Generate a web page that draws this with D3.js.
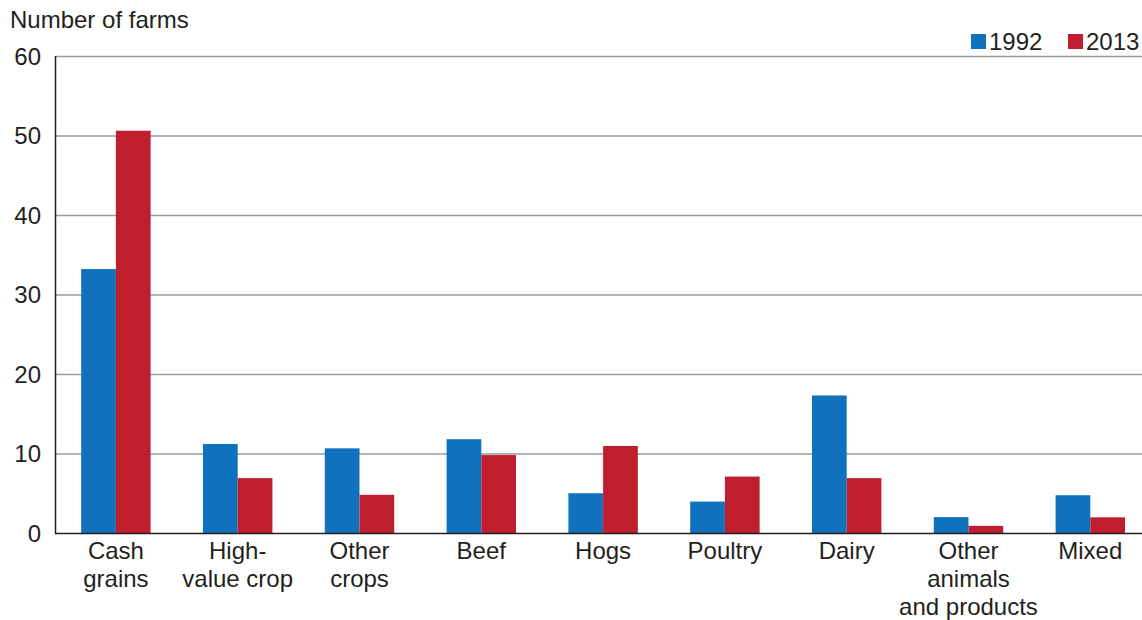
<!DOCTYPE html>
<html><head><meta charset="utf-8">
<script src="https://cdn.jsdelivr.net/npm/d3@7"></script>
<style>body{margin:0;background:#fff}svg{display:block}text{font-family:"Liberation Sans",Arial,sans-serif;fill:#231f20}</style>
</head><body><svg id="c" width="1142" height="620"></svg>
<script>
const categories = [["Cash","grains"],["High-","value crop"],["Other","crops"],["Beef"],["Hogs"],["Poultry"],["Dairy"],["Other","animals","and products"],["Mixed"]];
const series = ["1992","2013"];
const values1992 = [33.2, 11.2, 10.65, 11.8, 5.0, 3.95, 17.3, 2.0, 4.75];
const values2013 = [50.6, 6.9, 4.8, 9.8, 10.95, 7.1, 6.9, 0.9, 1.97];
const yTicks = [0,10,20,30,40,50,60];
const colors = ["#1072bd","#be1e2d"];

const svg = d3.select("#c");
const pL=55, pR=1142, pT=56, pB=533;
const FS=24;
const keys = categories.map((c,i)=>i);
const x = d3.scaleBand().domain(keys).range([pL, pL+9*121.8]).paddingInner(0.43).paddingOuter(0.215);
const xs = d3.scaleBand().domain(series).range([0, x.bandwidth()]);
const y = d3.scaleLinear().domain([0,60]).range([pB, pT]);

// gridlines
svg.append("g").selectAll("line").data(yTicks.filter(t=>t>0)).join("line")
  .attr("x1",pL).attr("x2",pR).attr("y1",d=>y(d)+0.5).attr("y2",d=>y(d)+0.5)
  .attr("stroke","#9a9a9a").attr("stroke-width",1.3);

// y tick labels
svg.append("g").selectAll("text").data(yTicks).join("text")
  .attr("x",41).attr("y",d=>y(d)+8.5).attr("text-anchor","end").attr("font-size",FS).text(d=>d);

// bars
const data = [values1992, values2013];
series.forEach((s,si)=>{
  svg.append("g").selectAll("rect").data(data[si]).join("rect")
    .attr("x",(d,i)=>x(i)+xs(s)).attr("width",xs.bandwidth())
    .attr("y",d=>y(d)).attr("height",d=>pB-y(d))
    .attr("fill",colors[si]);
});

// axes lines
svg.append("line").attr("x1",pL+0.5).attr("x2",pL+0.5).attr("y1",pT).attr("y2",pB+1).attr("stroke","#231f20").attr("stroke-width",1.5);
svg.append("line").attr("x1",pL).attr("x2",pR).attr("y1",pB+0.5).attr("y2",pB+0.5).attr("stroke","#231f20").attr("stroke-width",1.5);

// category labels
const cl = svg.append("g").selectAll("text").data(categories).join("text")
  .attr("text-anchor","middle").attr("font-size",FS);
cl.each(function(lines,i){
  const t=d3.select(this);
  lines.forEach((ln,j)=>t.append("tspan").attr("x",x(i)+x.bandwidth()/2).attr("y",559+j*28).text(ln));
});

// title
svg.append("text").attr("x",10).attr("y",28).attr("font-size",FS).text("Number of farms");

// legend
const lg=[{s:"1992",x:971,tx:989},{s:"2013",x:1068,tx:1086}];
lg.forEach((l,i)=>{
  svg.append("rect").attr("x",l.x).attr("y",34).attr("width",15).attr("height",15).attr("fill",colors[i]);
  svg.append("text").attr("x",l.tx).attr("y",50).attr("font-size",FS).text(l.s);
});
</script></body></html>
